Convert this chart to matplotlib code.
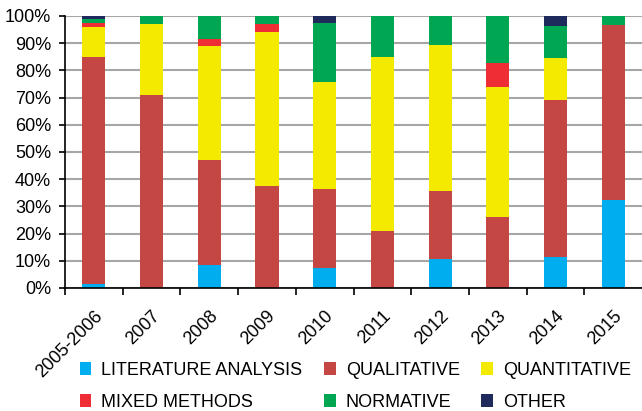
import numpy as np
import matplotlib
matplotlib.use("Agg")
import matplotlib.pyplot as plt
from matplotlib.ticker import PercentFormatter, FixedLocator

# data (percent of papers per period)
periods = ["2005-2006", "2007", "2008", "2009", "2010",
           "2011", "2012", "2013", "2014", "2015"]
literature = [1.5, 0.0, 8.5, 0.0, 7.3, 0.0, 10.7, 0.0, 11.4, 32.3]
qualitative = [83.5, 71.0, 38.5, 37.5, 29.2, 21.0, 25.0, 26.0, 57.6, 64.4]
quantitative = [11.0, 26.0, 42.0, 56.5, 39.2, 64.0, 53.6, 48.0, 15.6, 0.0]
mixed = [1.5, 0.0, 2.5, 3.0, 0.0, 0.0, 0.0, 8.7, 0.0, 0.0]
normative = [1.5, 3.0, 8.5, 3.0, 21.8, 15.0, 10.7, 17.3, 11.7, 3.3]
other = [1.0, 0.0, 0.0, 0.0, 2.5, 0.0, 0.0, 0.0, 3.7, 0.0]

series = [
    ("LITERATURE ANALYSIS", literature, "#00aeef"),
    ("QUALITATIVE", qualitative, "#c44744"),
    ("QUANTITATIVE", quantitative, "#f4ea00"),
    ("MIXED METHODS", mixed, "#ee2e34"),
    ("NORMATIVE", normative, "#00a651"),
    ("OTHER", other, "#1f2a5c"),
]

plt.rcParams["font.family"] = ["Liberation Sans", "DejaVu Sans"]
plt.rcParams["font.size"] = 13

fig = plt.figure(figsize=(6.42, 4.11), dpi=100)
ax = fig.add_axes([0.1013, 0.2993, 0.8987, 0.6618])

x = np.arange(len(periods))
bottom = np.zeros(len(periods))
handles = []
for name, vals, color in series:
    vals = np.array(vals)
    b = ax.bar(x, vals, width=0.4, bottom=bottom, color=color,
               label=name, zorder=3)
    handles.append(b)
    bottom += vals

ax.set_xlim(-0.5, len(periods) - 0.5)
ax.set_ylim(0, 100)
ax.yaxis.set_major_locator(FixedLocator(np.arange(0, 101, 10)))
ax.yaxis.set_major_formatter(PercentFormatter(decimals=0))
ax.grid(axis="y", color="#a6a6a6", linewidth=1.5, zorder=0)

ax.set_xticks(x)
ax.set_xticklabels(periods, rotation=45, ha="right", rotation_mode="anchor")
ax.set_xticks(np.arange(len(periods)) - 0.5, minor=True)
ax.tick_params(axis="x", which="major", length=0, pad=14)
ax.tick_params(axis="x", which="minor", length=5, width=1.2, direction="out")
ax.tick_params(axis="y", length=4, width=1.2, pad=6)

for s in ["top", "right"]:
    ax.spines[s].set_visible(False)
for s in ["left", "bottom"]:
    ax.spines[s].set_linewidth(1.2)
    ax.spines[s].set_zorder(4)

# legend fills column-wise, so reorder to read row by row
order = [0, 3, 1, 4, 2, 5]
fig.legend(handles=[handles[i] for i in order], loc="upper left",
           bbox_to_anchor=(0.124, 0.12),
           ncol=3, frameon=False, handlelength=0.65, handleheight=0.7,
           handletextpad=0.55, columnspacing=1.2, labelspacing=0.85,
           borderaxespad=0, borderpad=0, fontsize=13)

fig.savefig("out.png", dpi=100)
